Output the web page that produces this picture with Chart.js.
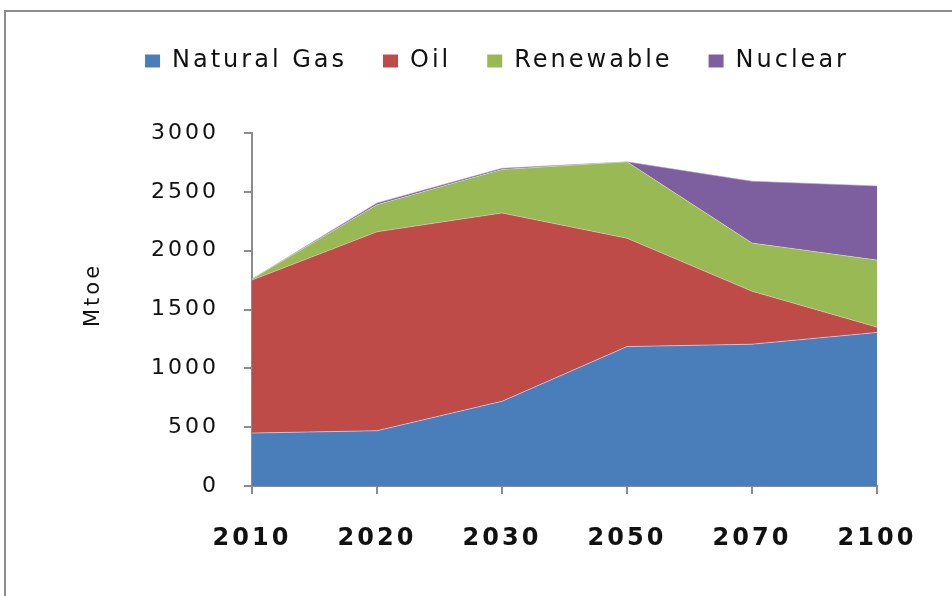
<!DOCTYPE html>
<html>
<head>
<meta charset="utf-8">
<script src="https://cdn.jsdelivr.net/npm/chart.js@4.4.1/dist/chart.umd.min.js"></script>
<style>
    html, body { margin: 0; padding: 0; background: #fff; overflow: hidden; }
    #wrap { position: relative; width: 952px; height: 596px; }
    #frame {
        position: absolute; left: 4px; top: 10px; width: 1000px; height: 700px;
        border-left: 2px solid #8c8c8c; border-top: 2px solid #8c8c8c;
    }
    canvas { position: absolute; left: 0; top: 0; }
</style>
</head>
<body>
<div id="wrap">
    <div id="frame"></div>
    <canvas id="energyChart" width="952" height="596"></canvas>
</div>
<script>
const years = ['2010', '2020', '2030', '2050', '2070', '2100'];
const naturalGas = [450, 470, 720, 1185, 1205, 1305];
const oil = [1300, 1690, 1600, 920, 450, 45];
const renewable = [10, 230, 370, 650, 410, 570];
const nuclear = [0, 15, 10, 0, 525, 630];
const yTicks = [0, 500, 1000, 1500, 2000, 2500, 3000];

const fontFamily = "'DejaVu Sans', sans-serif";

// wide lettering like the original picture
const spacingPlugin = {
    id: 'spacing',
    afterInit(chart) {
        const fit = chart.legend.fit;
        chart.legend.fit = function () {
            fit.call(this);
            this.height += 50;
        };
    },
    beforeLayout(chart) {
        chart.ctx.letterSpacing = '3px';
    },
    afterLayout(chart) {
        chart.legend.right = chart.width;
    },
    beforeDraw(chart) {
        chart.ctx.letterSpacing = '3px';
    }
};

const series = [
    { label: 'Natural Gas', data: naturalGas, color: '#4A7EBB', edge: 'rgba(255,255,255,0.45)' },
    { label: 'Oil', data: oil, color: '#BE4B48', edge: 'rgba(255,255,255,0.35)' },
    { label: 'Renewable', data: renewable, color: '#98B954', edge: 'rgba(255,255,255,0.35)' },
    { label: 'Nuclear', data: nuclear, color: '#7D5FA0', edge: 'rgba(180,160,210,0.6)' }
];

const ctx = document.getElementById('energyChart').getContext('2d');
const energyChart = new Chart(ctx, {
    type: 'line',
    data: {
        labels: years,
        datasets: series.map((s, i) => ({
            label: s.label,
            data: s.data,
            backgroundColor: s.color,
            borderColor: s.edge,
            borderWidth: 1,
            pointRadius: 0,
            tension: 0,
            fill: i === 0 ? 'origin' : '-1'
        }))
    },
    options: {
        responsive: false,
        animation: false,
        layout: {
            padding: { left: 42, right: 75, top: 13, bottom: 0 }
        },
        plugins: {
            legend: {
                position: 'top',
                labels: {
                    boxWidth: 15,
                    boxHeight: 13,
                    padding: 36,
                    color: '#111',
                    font: { family: fontFamily, size: 24 },
                    generateLabels: (chart) => Chart.defaults.plugins.legend.labels.generateLabels(chart)
                        .map(item => Object.assign(item, { lineWidth: 0, strokeStyle: 'transparent' }))
                }
            },
            tooltip: { enabled: false }
        },
        scales: {
            x: {
                stacked: true,
                afterFit: (scale) => { scale.height = 110; },
                grid: {
                    display: true,
                    drawOnChartArea: false,
                    tickLength: 8,
                    color: '#8c8c8c',
                    lineWidth: 2
                },
                border: { display: true, color: '#8c8c8c', width: 2 },
                ticks: {
                    padding: 30,
                    color: '#111',
                    maxRotation: 0,
                    font: { family: fontFamily, size: 24, weight: 'bold' }
                }
            },
            y: {
                stacked: true,
                min: 0,
                max: 3000,
                afterFit: (scale) => { scale.width = 210; },
                afterBuildTicks: (scale) => { scale.ticks = yTicks.map(v => ({ value: v })); },
                grid: {
                    display: true,
                    drawOnChartArea: false,
                    tickLength: 8,
                    color: '#8c8c8c',
                    lineWidth: 2
                },
                border: { display: true, color: '#8c8c8c', width: 2 },
                ticks: {
                    padding: 25,
                    color: '#111',
                    font: { family: fontFamily, size: 22 },
                    callback: (value) => String(value)
                },
                title: {
                    display: true,
                    text: '   Mtoe',
                    color: '#111',
                    padding: { top: 39 },
                    font: { family: fontFamily, size: 21 }
                }
            }
        }
    },
    plugins: [spacingPlugin]
});
</script>
</body>
</html>
